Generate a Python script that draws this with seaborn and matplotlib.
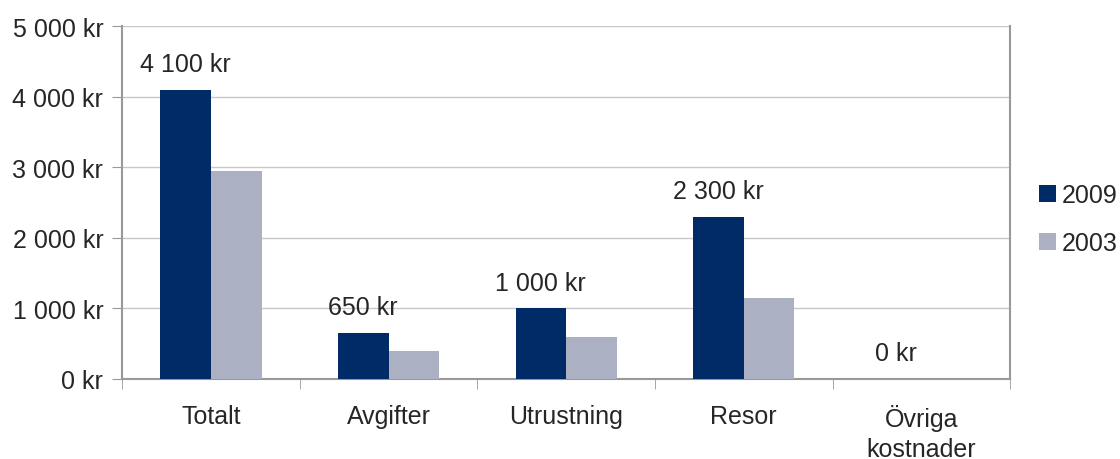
import pandas as pd
import matplotlib
matplotlib.use("Agg")
import matplotlib.pyplot as plt
import matplotlib.ticker as mticker
import seaborn as sns

# Data
kategorier = ["Totalt", "Avgifter", "Utrustning", "Resor", "Övriga\nkostnader"]
ar_2009 = [4100, 650, 1000, 2300, 0]
ar_2003 = [2950, 400, 600, 1150, 0]
etiketter_2009 = ["4 100 kr", "650 kr", "1 000 kr", "2 300 kr", "0 kr"]
serier = ["2009", "2003"]
yticks = [0, 1000, 2000, 3000, 4000, 5000]


def kr_format(v, pos=None):
    return f"{int(v):,} kr".replace(",", " ")


df = pd.DataFrame({
    "kategori": kategorier * 2,
    "kostnad": ar_2009 + ar_2003,
    "år": [serier[0]] * len(kategorier) + [serier[1]] * len(kategorier),
})

sns.set_style("white")
plt.rcParams["font.family"] = ["Liberation Sans", "DejaVu Sans"]
FS = 18

fig = plt.figure(figsize=(11.2, 4.6), dpi=100)
ax = fig.add_axes([0.109, 0.174, 0.793, 0.767])

sns.barplot(
    data=df, x="kategori", y="kostnad", hue="år",
    order=kategorier, hue_order=serier,
    palette=["#002b66", "#abb1c3"], saturation=1,
    width=0.57, linewidth=0, ax=ax, zorder=3,
)

# Value labels above the 2009 bars
ax.bar_label(ax.containers[0], labels=etiketter_2009, padding=10, fontsize=FS)

ax.set_ylim(0, 5000)
ax.set_xlim(-0.5, len(kategorier) - 0.5)
ax.set_yticks(yticks)
ax.yaxis.set_major_formatter(mticker.FuncFormatter(kr_format))
ax.yaxis.grid(True, color="#c8c8c8", linewidth=1, zorder=0)
ax.set_xlabel("")
ax.set_ylabel("")

ax.tick_params(axis="y", labelsize=FS, length=7, color="#999999", left=True, pad=6.5)
ax.tick_params(axis="x", which="major", labelsize=FS, length=0, pad=18)
for lbl in ax.get_xticklabels():
    lbl.set_linespacing(1.3)
ax.set_xticks([i + 0.5 for i in range(-1, len(kategorier))], minor=True)
ax.tick_params(axis="x", which="minor", length=7, color="#999999", bottom=True)

for side in ["left", "bottom", "right"]:
    ax.spines[side].set_color("#999999")
    ax.spines[side].set_linewidth(1.5)
ax.spines["top"].set_visible(False)

ax.legend(
    loc="center left", bbox_to_anchor=(1.007, 0.453), frameon=False,
    fontsize=FS, handlelength=0.7, handleheight=0.7, handletextpad=0.2,
    labelspacing=0.95,
)

fig.savefig("out.png", dpi=100)
